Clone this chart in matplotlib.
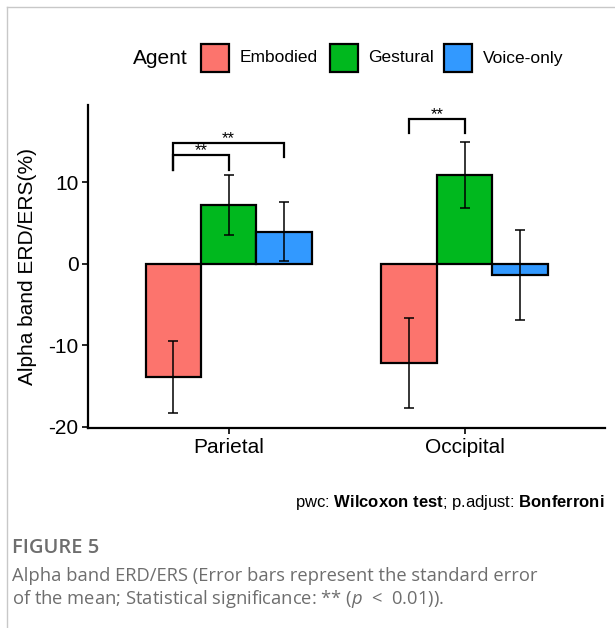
import matplotlib
matplotlib.use("Agg")
import matplotlib.pyplot as plt
import numpy as np
from matplotlib.patches import Rectangle
from matplotlib.lines import Line2D

plt.rcParams['font.family'] = ['Liberation Sans', 'DejaVu Sans']
plt.rcParams['mathtext.fontset'] = 'custom'
plt.rcParams['mathtext.rm'] = 'Liberation Sans'
plt.rcParams['mathtext.bf'] = 'Liberation Sans:bold'
plt.rcParams['mathtext.it'] = 'Open Sans:italic'

regions = ["Parietal", "Occipital"]
agents = ["Embodied", "Gestural", "Voice-only"]
colors = ["#FC746D", "#00B81E", "#3299FF"]
means = {
    "Embodied": [-13.9, -12.2],
    "Gestural": [7.2, 10.9],
    "Voice-only": [3.95, -1.4],
}
ses = {
    "Embodied": [4.4, 5.55],
    "Gestural": [3.7, 4.0],
    "Voice-only": [3.6, 5.5],
}
# significance brackets: (region index, agent a, agent b, bracket y, left tip y, right tip y)
brackets = [
    (0, 0, 1, 13.3, 11.5, 11.5),
    (0, 0, 2, 14.85, 11.5, 13.1),
    (1, 0, 1, 17.8, 16.1, 16.1),
]
sig_label = "**"

W, H = 615, 628
fig = plt.figure(figsize=(W / 100, H / 100), dpi=100)
ax = fig.add_axes([88.3 / W, 1 - 428.3 / H, (605 - 88.3) / W, (428.3 - 105) / H])

bw = 0.235
x = np.arange(1, len(regions) + 1)
for i, ag in enumerate(agents):
    pos = x + (i - 1) * bw
    ax.bar(pos, means[ag], width=bw, color=colors[i], edgecolor="black",
           linewidth=1.6, zorder=2)
    ax.errorbar(pos, means[ag], yerr=ses[ag], fmt="none", ecolor="black",
                elinewidth=1.1, capsize=3.3, capthick=1.1, zorder=3)

for r, a, b, yb, ya_tip, yb_tip in brackets:
    xa = x[r] + (a - 1) * bw
    xb = x[r] + (b - 1) * bw
    ax.plot([xa, xa, xb, xb], [ya_tip, yb, yb, yb_tip], color="black",
            lw=1.6, solid_joinstyle="miter", zorder=4, clip_on=False)
    ax.text((xa + xb) / 2, yb - 0.35, sig_label, ha="center", va="bottom",
            fontsize=12)

ax.set_xlim(0.405, 2.595)
ax.set_ylim(-20.2, 19.5)
ax.set_xticks(x)
ax.set_xticklabels(regions, fontsize=15)
ax.set_yticks([10, 0, -10, -20])
ax.set_yticklabels(["10", "0", "-10", "-20"], fontsize=15)
ax.tick_params(axis="both", length=4, width=1.2, color="black", labelcolor="black", pad=3)
for s in ["top", "right"]:
    ax.spines[s].set_visible(False)
for s in ["left", "bottom"]:
    ax.spines[s].set_linewidth(1.6)
ax.set_ylabel("Alpha band ERD/ERS(%)", fontsize=15, labelpad=8)

# legend
fig.text(133 / W, 1 - 58 / H, "Agent", fontsize=15, ha="left", va="center")
box_x = [201, 330, 444]
lab_x = [240, 368, 483]
for i, ag in enumerate(agents):
    fig.patches.append(Rectangle((box_x[i] / W, 1 - 72 / H), 28 / W, 28 / H,
                                 transform=fig.transFigure, facecolor=colors[i],
                                 edgecolor="black", linewidth=1.6))
    fig.text(lab_x[i] / W, 1 - 58 / H, ag, fontsize=12.5, ha="left", va="center")

fig.text(605 / W, 1 - 503 / H,
         r"pwc: $\mathbf{Wilcoxon\ test}$; p.adjust: $\mathbf{Bonferroni}$",
         fontsize=12, ha="right", va="center")

# page border lines
fig.add_artist(Line2D([7 / W, 7 / W], [0, 1 - 7 / H], transform=fig.transFigure,
                      color="#C8C8C8", lw=1))
fig.add_artist(Line2D([7 / W, 1], [1 - 7 / H, 1 - 7 / H], transform=fig.transFigure,
                      color="#C8C8C8", lw=1))

cap_col = "#6E6E6E"
fig.text(12 / W, 1 - 548 / H, "FIGURE 5", fontsize=14.5, color=cap_col,
         family="Open Sans", weight="semibold", ha="left", va="center")
fig.text(12 / W, 1 - 576 / H,
         "Alpha band ERD/ERS (Error bars represent the standard error",
         fontsize=13.2, color=cap_col, family="Open Sans", ha="left", va="center")
fig.text(12 / W, 1 - 599 / H,
         r"of the mean; Statistical significance: ** ($\mathit{p}$  <  0.01)).",
         fontsize=13.2, color=cap_col, family="Open Sans", ha="left", va="center")

fig.savefig("out.png", dpi=100)
